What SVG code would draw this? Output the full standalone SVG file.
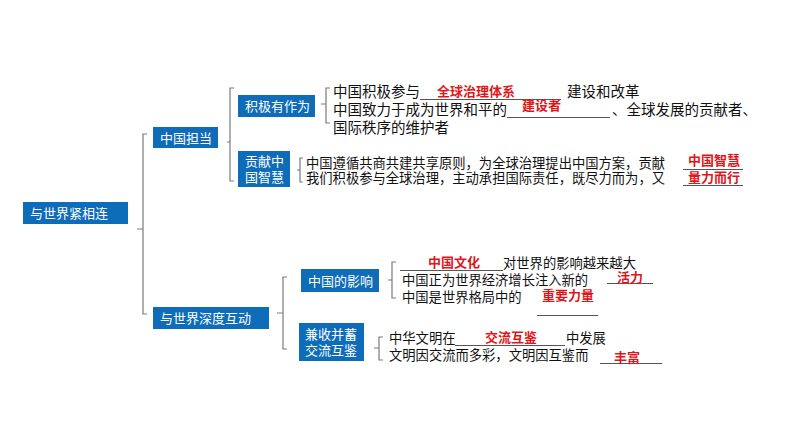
<svg xmlns="http://www.w3.org/2000/svg" width="794" height="447" viewBox="0 0 794 447">
<style>
.box{fill:#0E6CB8}
.bt{fill:#fff;font-family:"Noto Sans CJK SC","Noto Sans",sans-serif;font-size:13px}
.t{fill:#111;font-family:"Noto Sans CJK SC","Noto Sans",sans-serif;font-size:13.3px}
.tl{fill:#111;font-family:"Noto Sans CJK SC","Noto Sans",sans-serif;font-size:14.5px}
.r{fill:#E0161B;font-family:"Noto Sans CJK SC","Noto Sans",sans-serif;font-size:13px;font-weight:bold}
.br{fill:none;stroke:#7a7a7a;stroke-width:1.2}
.ul{fill:none;stroke:#555;stroke-width:1}
</style>
<rect width="794" height="447" fill="#fff"/>
<g id="connectors">
<path class="br" d="M147,134 H143 V314 H147 M143,229 H137"/>
<path class="br" d="M234,88 H230 V181 H234 M230,142 H227"/>
<path class="br" d="M330,88 H326 V123 H330 M326,104 H321"/>
<path class="br" d="M303,158 H300 V182 H303 M300,170 H297"/>
<path class="br" d="M287,277 H283 V349 H287 M283,313 H277"/>
<path class="br" d="M396,262 H392 V298 H396 M392,280 H388"/>
<path class="br" d="M383,337 H379 V360 H383 M379,348 H374"/>
</g>
<g id="n-root"><rect class="box" x="23" y="202" width="105" height="22"/><text class="bt" x="30" y="218">与世界紧相连</text></g>
<g id="n-danDang"><rect class="box" x="153" y="127" width="65" height="21"/><text class="bt" x="160" y="143">中国担当</text></g>
<g id="n-hudong"><rect class="box" x="153" y="307" width="116" height="22"/><text class="bt" x="160" y="323">与世界深度互动</text></g>
<g id="n-jiji"><rect class="box" x="238" y="95" width="77" height="22"/><text class="bt" x="245" y="111">积极有作为</text></g>
<g id="n-gongxian"><rect class="box" x="238" y="151" width="52" height="36"/><text class="bt" x="245" y="166">贡献中</text><text class="bt" x="245" y="182">国智慧</text></g>
<g id="n-yingxiang"><rect class="box" x="301" y="269" width="78" height="23"/><text class="bt" x="308" y="286">中国的影响</text></g>
<g id="n-jianshou"><rect class="box" x="299" y="323" width="65" height="38"/><text class="bt" x="305" y="339">兼收并蓄</text><text class="bt" x="305" y="355">交流互鉴</text></g>
<g id="text-jiji">
<text class="tl" x="333" y="97">中国积极参与</text>
<path class="ul" d="M420,99.5 H561"/>
<text class="r" x="437" y="96">全球治理体系</text>
<text class="tl" x="567" y="97">建设和改革</text>
<text class="tl" x="333" y="115">中国致力于成为世界和平的</text>
<path class="ul" d="M507,117.5 H610"/>
<text class="r" x="522" y="110">建设者</text>
<text class="tl" x="612" y="115">、全球发展的贡献者、</text>
<text class="tl" x="333" y="133">国际秩序的维护者</text>
</g>
<g id="text-gongxian">
<text class="t" x="306" y="168">中国遵循共商共建共享原则，为全球治理提出中国方案，贡献</text>
<text class="t" x="306" y="183">我们积极参与全球治理，主动承担国际责任，既尽力而为，又</text>
<path class="ul" d="M683,169.5 H743 M683,185.5 H743"/>
<text class="r" x="688" y="165">中国智慧</text>
<text class="r" x="688" y="182">量力而行</text>
</g>
<g id="text-yingxiang">
<path class="ul" d="M400,270.5 H503"/>
<text class="r" x="428" y="267">中国文化</text>
<text class="t" x="503" y="268">对世界的影响越来越大</text>
<text class="t" x="402" y="285">中国正为世界经济增长注入新的</text>
<path class="ul" d="M607,283.5 H653"/>
<text class="r" x="617" y="282">活力</text>
<text class="t" x="402" y="302">中国是世界格局中的</text>
<text class="r" x="542" y="300">重要力量</text>
<path class="ul" d="M537,315.5 H598"/>
</g>
<g id="text-jianshou">
<text class="t" x="389" y="343">中华文明在</text>
<path class="ul" d="M455,345.5 H565"/>
<text class="r" x="485" y="342">交流互鉴</text>
<text class="t" x="566" y="343">中发展</text>
<text class="t" x="389" y="360">文明因交流而多彩，文明因互鉴而</text>
<path class="ul" d="M600,363.5 H662"/>
<text class="r" x="614" y="362">丰富</text>
</g>
</svg>
